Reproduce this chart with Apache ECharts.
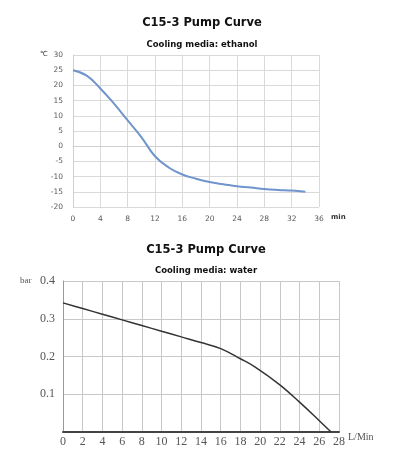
<!DOCTYPE html>
<html>
<head>
<meta charset="utf-8">
<script src="https://cdn.jsdelivr.net/npm/echarts@6/dist/echarts.min.js"></script>
<style>
    html, body {margin: 0; padding: 0; background: #fff;}
    #main {width: 399px; height: 461px;}
</style>
</head>
<body>
<div id="main"></div>
<script>
    // ethanol cooling curve (min -> ℃)
    var ethanolTime = [0, 2, 4, 6, 8, 10, 12, 14, 16, 18, 20, 22, 24, 26, 28, 30, 32, 34];
    var ethanolTemp = [25, 23.2, 19, 14, 8.5, 3, -3.3, -7, -9.3, -10.7, -11.8, -12.5, -13.2, -13.6, -14.1, -14.4, -14.6, -15];

    // water pump curve (L/Min -> bar)
    var waterFlow = [0, 2, 4, 6, 8, 10, 12, 14, 16, 18, 19.5, 22, 24, 26, 27.2];
    var waterPressure = [0.342, 0.327, 0.312, 0.297, 0.282, 0.267, 0.252, 0.237, 0.221, 0.194, 0.172, 0.125, 0.079, 0.03, 0];

    function pairs(xs, ys) {
        return xs.map(function (x, i) {
            return [x, ys[i]];
        });
    }

    var sansLabel = {fontFamily: 'DejaVu Sans', fontSize: 7.5, color: '#595959'};
    var serifLabel = {fontFamily: 'Liberation Serif', fontSize: 12, color: '#555'};

    (function (charts) {
        charts.setOption({
            animation: false,
            title: [
                {text: 'C15-3 Pump Curve', left: 197, top: 12, textAlign: 'center',
                    textStyle: {fontFamily: 'DejaVu Sans', fontSize: 11.5, fontWeight: 'bold', color: '#111'}},
                {text: 'Cooling media: ethanol', left: 197, top: 35, textAlign: 'center',
                    textStyle: {fontFamily: 'DejaVu Sans', fontSize: 8.5, fontWeight: 'bold', color: '#111'}},
                {text: 'C15-3 Pump Curve', left: 201, top: 239, textAlign: 'center',
                    textStyle: {fontFamily: 'DejaVu Sans', fontSize: 11.5, fontWeight: 'bold', color: '#111'}},
                {text: 'Cooling media: water', left: 201, top: 261, textAlign: 'center',
                    textStyle: {fontFamily: 'DejaVu Sans', fontSize: 8.5, fontWeight: 'bold', color: '#111'}}
            ],
            // axis unit captions
            graphic: [
                {type: 'text', left: 331, top: 214,
                    style: {text: 'min', font: 'bold 7px "DejaVu Sans"', fill: '#333'}},
                {type: 'text', left: 40, top: 51,
                    style: {text: '℃', font: '7px "DejaVu Sans"', fill: '#333'}},
                {type: 'text', left: 20, top: 276,
                    style: {text: 'bar', font: '9px "Liberation Serif"', fill: '#555'}},
                {type: 'text', left: 348, top: 432,
                    style: {text: 'L/Min', font: '10px "Liberation Serif"', fill: '#555'}}
            ],
            grid: [
                {left: 73, top: 55, width: 246, height: 152},
                {left: 63, top: 281, width: 276, height: 151}
            ],
            xAxis: [
                {
                    type: 'value', gridIndex: 0, min: 0, max: 36, interval: 4,
                    axisLine: {lineStyle: {color: '#d0d0d0', width: 1}},
                    axisTick: {show: false},
                    axisLabel: Object.assign({margin: 8}, sansLabel),
                    splitLine: {show: true, lineStyle: {color: '#d9d9d9', width: 1}}
                },
                {
                    type: 'value', gridIndex: 1, min: 0, max: 28, interval: 2,
                    axisLine: {lineStyle: {color: '#444', width: 2}},
                    axisTick: {show: false},
                    axisLabel: Object.assign({margin: 4}, serifLabel),
                    splitLine: {show: true, lineStyle: {color: '#c8c8c8', width: 1}}
                }
            ],
            yAxis: [
                {
                    type: 'value', gridIndex: 0, min: -20, max: 30, interval: 5,
                    axisLine: {show: true, lineStyle: {color: '#d0d0d0', width: 1}},
                    axisTick: {show: false},
                    axisLabel: Object.assign({margin: 10}, sansLabel),
                    splitLine: {show: true, lineStyle: {color: '#d9d9d9', width: 1}}
                },
                {
                    type: 'value', gridIndex: 1, min: 0, max: 0.4, interval: 0.1,
                    axisLine: {show: true, lineStyle: {color: '#999', width: 1}},
                    axisTick: {show: false},
                    axisLabel: Object.assign({
                        margin: 8,
                        formatter: function (v) {
                            return v === 0 ? '' : v.toFixed(1);
                        }
                    }, serifLabel),
                    splitLine: {show: true, lineStyle: {color: '#c8c8c8', width: 1}}
                }
            ],
            series: [
                {
                    name: 'ethanol', type: 'line', xAxisIndex: 0, yAxisIndex: 0,
                    smooth: 0.45, showSymbol: false,
                    lineStyle: {color: '#7094cc', width: 2},
                    data: pairs(ethanolTime, ethanolTemp)
                },
                {
                    name: 'water', type: 'line', xAxisIndex: 1, yAxisIndex: 1,
                    smooth: 0.4, showSymbol: false,
                    lineStyle: {color: '#333', width: 1.5},
                    data: pairs(waterFlow, waterPressure)
                }
            ]
        });
    })(echarts.init(document.getElementById('main')));
</script>
</body>
</html>
